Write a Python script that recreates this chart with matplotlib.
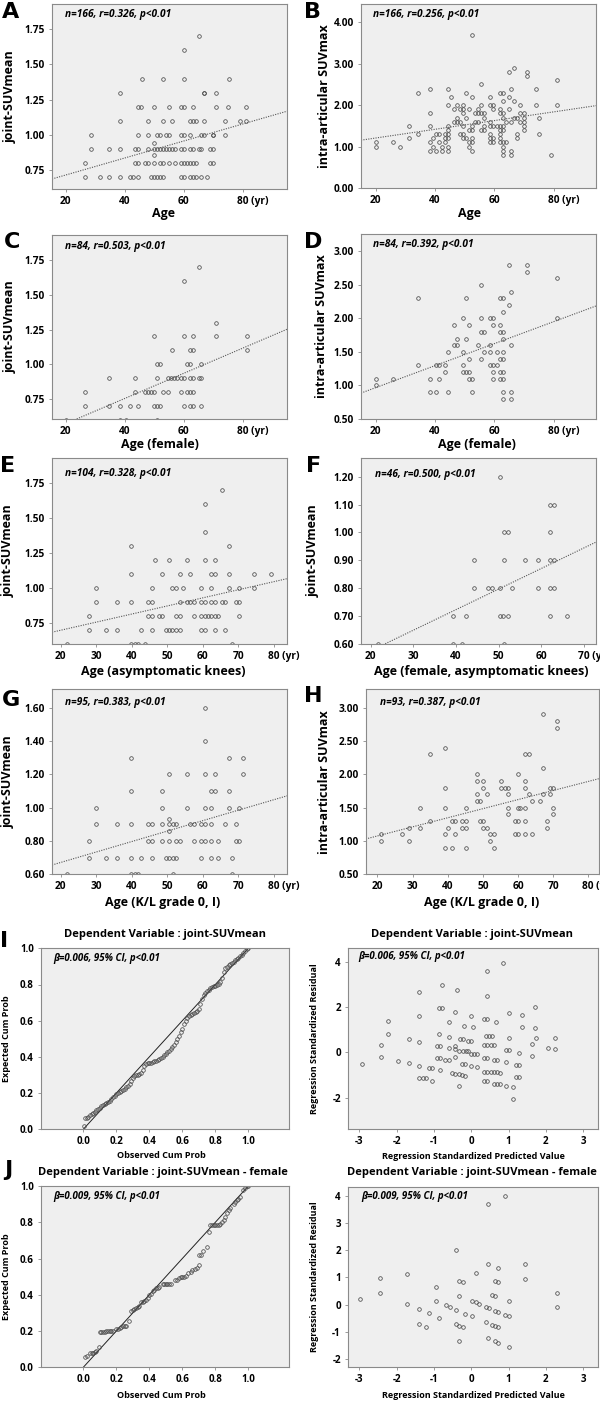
import matplotlib.pyplot as plt
from matplotlib.transforms import ScaledTranslation

plt.rcParams['font.family'] = ['Open Sans', 'DejaVu Sans']

# ---- scatter panels: SUV value -> ages (yr) of knees at that value ----
A_PTS = {
    1.70: [65], 1.60: [60], 1.40: [45.7, 52.8, 60, 75.3],
    1.30: [38.5, 67, 67, 71],
    1.20: [44.5, 45.6, 49.8, 55, 59, 60, 63, 71, 75, 81],
    1.10: [38.5, 47.7, 52.8, 56, 62, 63, 64, 67, 74, 79, 81],
    1.00: [28.4, 44.5, 48, 51, 52, 54, 55, 59, 60, 62, 66, 67, 70, 70, 74],
    0.94: [50], 0.86: [50],
    0.90: [28.4, 34.5, 38.5, 43.6, 44.5, 47.7, 50, 51, 52, 53, 54, 55, 56, 57,
           59, 60, 62, 63, 65, 66, 69, 70],
    0.80: [26.4, 43.6, 44.5, 46.7, 47.7, 50, 52, 53, 55, 57, 59, 60, 61, 62,
           63, 64, 69, 70],
    0.70: [26.4, 31.5, 34.5, 38.5, 41.7, 42.7, 44.5, 48.8, 49.8, 50.8, 51.8,
           52.8, 59, 60, 62, 63, 64, 66, 68],
    0.60: [20, 38.5, 39.5, 40.5, 42.7, 50.8, 68],
}
B_PTS = {
    3.7: [52.4], 2.9: [66.7], 2.8: [64.8, 71], 2.7: [71], 2.6: [81.1],
    2.5: [55.5], 2.4: [38.4, 44.4, 65.8, 74], 2.3: [34.2, 50.5, 61.8, 62.8],
    2.2: [45.4, 52.4, 58.6, 64.8], 2.1: [62.8, 66.7],
    2.0: [44.4, 47.5, 49.5, 55.5, 58.6, 59.7, 68.8, 74, 81.1],
    1.9: [46.5, 48.5, 49.5, 51.5, 54.6, 59.7, 61.8, 64.8],
    1.8: [38.4, 49.5, 53.6, 54.6, 55.5, 56.5, 61.8, 62.8, 68.8, 69.9],
    1.7: [47.5, 50.5, 56.5, 62.8, 66.7, 67.8, 69.9, 75],
    1.6: [46.5, 47.5, 48.5, 53.6, 54.6, 58.6, 63.8, 65.8, 68.8, 69.9],
    1.5: [31.1, 38.4, 44.4, 49.5, 52.4, 56.5, 58.6, 59.7, 60.8, 61.8, 62.8, 69.9],
    1.4: [44.4, 51.5, 52.4, 55.5, 56.5, 61.8, 62.8, 69.9],
    1.3: [34.2, 40.5, 41.4, 43.4, 44.4, 48.5, 49.5, 58.6, 61.8, 67.8, 75],
    1.2: [31.1, 39.4, 43.4, 44.4, 49.5, 50.5, 52.4, 58.6, 59.7, 61.8, 67.8],
    1.1: [20, 26, 38.4, 41.4, 43.4, 51.5, 52.4, 58.6, 59.7, 61.8, 62.8, 63.8],
    1.0: [20, 28.1, 39.4, 42.4, 44.4, 51.5, 62.8],
    0.9: [38.4, 40.5, 42.4, 44.4, 52.4, 62.8, 65.8],
    0.8: [62.8, 65.8, 79.1],
}
C_PTS = {
    1.70: [65], 1.60: [60], 1.30: [71],
    1.20: [49.8, 60, 63, 71, 81.3], 1.10: [56, 62, 63, 81.3],
    1.00: [50.8, 51.8, 61, 62, 66],
    0.90: [34.5, 43.6, 50.8, 54.8, 55.8, 56.8, 57.8, 59, 60, 62, 63, 65, 66],
    0.80: [26.4, 43.6, 46.7, 47.7, 48.8, 50, 52.8, 54.8, 59, 61, 62, 63],
    0.70: [26.4, 34.5, 38.5, 41.7, 44.5, 50, 51, 52, 60, 62, 63, 66],
    0.60: [20, 38.5, 40.5, 50.8],
}
D_PTS = {
    2.8: [64.8, 71], 2.7: [71], 2.6: [81.1], 2.5: [55.5], 2.4: [65.8],
    2.3: [34.2, 50.5, 61.8, 62.8], 2.2: [64.8], 2.1: [62.8],
    2.0: [49.5, 55.5, 58.6, 59.7, 81.1],
    1.9: [46.5, 51.5, 59.7, 61.8],
    1.8: [55.5, 56.5, 61.8, 62.8],
    1.7: [47.5, 50.5, 62.8],
    1.6: [46.5, 47.5, 54.6, 58.6, 65.8],
    1.5: [44.4, 49.5, 56.5, 58.6, 60.8, 62.8],
    1.4: [51.5, 55.5, 61.8, 62.8],
    1.3: [34.2, 40.5, 41.4, 43.4, 49.5, 58.6, 59.7, 60.8],
    1.2: [43.4, 49.5, 50.5, 51.5, 59.7, 61.8, 62.8],
    1.1: [20, 26, 38.4, 41.4, 51.5, 52.4, 59.7, 61.8, 62.8],
    1.0: [20],
    0.9: [38.4, 40.5, 44.4, 52.4, 62.8, 65.8],
    0.8: [62.8, 65.8],
}
E_PTS = {
    1.70: [65.5], 1.60: [60.5], 1.40: [60.5], 1.30: [39.8, 67.3],
    1.20: [46.5, 50.5, 55.5, 60.5, 63.4],
    1.10: [39.8, 48.6, 53.5, 56.5, 62.4, 63.4, 67.3, 74.4, 79.3],
    1.00: [29.8, 45.6, 51.4, 52.5, 54.5, 59.5, 62.4, 67.3, 70.3, 74.4],
    0.90: [29.8, 35.7, 39.8, 44.6, 45.6, 53.5, 55.5, 56.5, 57.5, 59.5, 60.5,
           62.4, 63.4, 65.4, 66.3, 69.4, 70.3],
    0.80: [27.8, 44.6, 45.6, 47.6, 48.6, 52.5, 53.5, 57.5, 59.5, 60.5, 61.5,
           62.4, 63.4, 64.4, 70.3],
    0.70: [27.8, 32.7, 35.7, 42.6, 45.6, 49.5, 50.5, 51.4, 52.5, 53.5, 59.5,
           60.5, 63.4, 66.3],
    0.60: [21.8, 39.8, 40.8, 41.7, 43.6, 68.3],
}
F_PTS = {
    1.20: [50.2], 1.10: [62.1, 63.0], 1.00: [51.3, 52.1, 62.1],
    0.90: [44.3, 51.3, 56.2, 59.2, 62.1, 63.0],
    0.80: [44.3, 47.4, 48.3, 50.2, 53.2, 59.2, 62.1, 63.0],
    0.70: [39.3, 42.3, 50.2, 51.1, 52.1, 62.1, 66.0],
    0.60: [21.6, 39.3, 41.3, 51.3],
}
G_PTS = {
    1.60: [60.5], 1.40: [60.5], 1.30: [39.8, 67.3, 71.4],
    1.20: [50.5, 55.5, 60.5, 63.4, 71.4],
    1.10: [39.8, 48.6, 62.4, 63.4, 67.3],
    1.00: [29.8, 48.6, 55.5, 60.5, 62.4, 67.3, 70.3],
    0.93: [50.5], 0.86: [50.5],
    0.90: [29.8, 35.7, 39.8, 44.6, 45.6, 48.6, 50.5, 51.5, 52.5, 56.5, 57.5,
           59.5, 60.5, 62.4, 66.3, 69.4],
    0.80: [27.8, 44.6, 45.6, 48.6, 50.5, 52.5, 53.5, 57.5, 59.5, 60.5, 62.4,
           64.4, 69.4, 70.3],
    0.70: [27.8, 32.7, 35.7, 39.8, 42.6, 45.6, 49.5, 50.5, 51.5, 52.5, 59.5,
           62.4, 64.4, 68.3],
    0.60: [21.8, 39.8, 40.8, 41.7, 51.5, 68.3],
}
H_PTS = {
    2.9: [67.2], 2.8: [71.0], 2.7: [71.0], 2.4: [39.1], 2.3: [35.0, 62.0, 63.1],
    2.1: [67.1], 2.0: [48.2, 60.0],
    1.9: [48.2, 50.0, 55.2, 62.0],
    1.8: [39.1, 50.0, 55.2, 56.2, 57.2, 62.0, 69.1, 70.0],
    1.7: [48.2, 51.2, 57.2, 63.1, 67.1, 69.1],
    1.6: [48.2, 49.2, 64.1, 66.2],
    1.5: [32.0, 39.1, 45.1, 57.2, 60.0, 60.6, 62.0, 70.0],
    1.4: [57.2, 70.0],
    1.3: [35.0, 41.1, 42.1, 44.2, 45.1, 49.2, 50.0, 59.1, 60.0, 62.0, 68.1],
    1.2: [29.0, 32.0, 40.0, 44.2, 45.1, 50.0, 51.2, 68.1],
    1.1: [21.0, 27.0, 39.1, 42.1, 52.1, 53.2, 59.1, 60.0, 62.0, 64.1],
    1.0: [21.0, 29.0, 52.1],
    0.9: [39.1, 41.1, 45.1, 53.2],
}

# fitted regression lines: [intercept, slope]
A_FIT = [0.594, 0.00604]
B_FIT = [0.996, 0.01051]
C_FIT = [0.392, 0.00905]
D_FIT = [0.640, 0.0164]
E_FIT = [0.586, 0.00577]
F_FIT = [0.427, 0.00739]
G_FIT = [0.546, 0.00627]
H_FIT = [0.802, 0.01365]

NOTES = ["n=166, r=0.326, p<0.01", "n=166, r=0.256, p<0.01",
         "n=84, r=0.503, p<0.01", "n=84, r=0.392, p<0.01",
         "n=104, r=0.328, p<0.01", "n=46, r=0.500, p<0.01",
         "n=95, r=0.383, p<0.01", "n=93, r=0.387, p<0.01"]

# ---- normal P-P plots ----
I_OBS = [0.005, 0.01, 0.02, 0.03, 0.04, 0.05, 0.06, 0.07, 0.08, 0.09,
         0.10, 0.11, 0.12, 0.13, 0.14, 0.15, 0.16, 0.17, 0.18, 0.19,
         0.20, 0.21, 0.22, 0.23, 0.24, 0.25, 0.26, 0.27, 0.28, 0.29,
         0.30, 0.31, 0.32, 0.33, 0.34, 0.35, 0.36, 0.37, 0.38, 0.39,
         0.40, 0.41, 0.42, 0.43, 0.44, 0.45, 0.46, 0.47, 0.48, 0.49,
         0.50, 0.51, 0.52, 0.53, 0.54, 0.55, 0.56, 0.57, 0.58, 0.59,
         0.60, 0.61, 0.62, 0.63, 0.64, 0.65, 0.66, 0.67, 0.68, 0.69,
         0.70, 0.71, 0.72, 0.73, 0.74, 0.75, 0.76, 0.77, 0.78, 0.79,
         0.80, 0.81, 0.82, 0.83, 0.84, 0.85, 0.86, 0.87, 0.88, 0.89,
         0.90, 0.91, 0.92, 0.93, 0.94, 0.95, 0.96, 0.97, 0.98, 0.99, 1.00]
I_EXP = [0.02, 0.06, 0.065, 0.07, 0.077, 0.084, 0.091, 0.098, 0.105, 0.112,
         0.119, 0.126, 0.133, 0.139, 0.145, 0.151, 0.157, 0.166, 0.176, 0.186,
         0.195, 0.20, 0.206, 0.212, 0.218, 0.224, 0.232, 0.241, 0.25, 0.265,
         0.285, 0.295, 0.30, 0.302, 0.304, 0.31, 0.33, 0.35, 0.36, 0.364,
         0.367, 0.369, 0.372, 0.376, 0.38, 0.384, 0.389, 0.394, 0.40, 0.408,
         0.416, 0.425, 0.434, 0.443, 0.452, 0.465, 0.48, 0.497, 0.515, 0.535,
         0.555, 0.58, 0.60, 0.615, 0.625, 0.632, 0.638, 0.643, 0.648, 0.655,
         0.665, 0.69, 0.72, 0.74, 0.755, 0.765, 0.772, 0.778, 0.784, 0.789,
         0.793, 0.798, 0.805, 0.815, 0.835, 0.87, 0.89, 0.898, 0.905, 0.912,
         0.92, 0.927, 0.934, 0.941, 0.948, 0.956, 0.965, 0.975, 0.985, 0.995, 1.0]
J_OBS = [0.01, 0.02, 0.04, 0.05, 0.06, 0.07, 0.08, 0.097,
         0.10, 0.11, 0.12, 0.13, 0.14, 0.15, 0.16, 0.17, 0.18,
         0.20, 0.21, 0.22, 0.23, 0.24, 0.25, 0.26, 0.275,
         0.29, 0.30, 0.31, 0.32, 0.33, 0.34, 0.35, 0.36, 0.37, 0.38, 0.39,
         0.40, 0.41, 0.42, 0.43, 0.44, 0.45, 0.46,
         0.48, 0.49, 0.50, 0.51, 0.52, 0.53,
         0.555, 0.57, 0.58, 0.59, 0.60, 0.61, 0.62,
         0.636, 0.65, 0.66, 0.675, 0.687,
         0.70, 0.70, 0.715, 0.727, 0.747, 0.76,
         0.77, 0.78, 0.79, 0.80, 0.81, 0.82, 0.83,
         0.84, 0.85, 0.86, 0.87, 0.88, 0.89,
         0.91, 0.92, 0.93, 0.94, 0.95,
         0.97, 0.98, 0.99, 1.0]
J_EXP = [0.059, 0.06, 0.078, 0.08, 0.08, 0.085, 0.09, 0.11,
         0.197, 0.197, 0.197, 0.197, 0.198, 0.199, 0.2, 0.2, 0.2,
         0.212, 0.213, 0.215, 0.222, 0.228, 0.23, 0.23, 0.258,
         0.31, 0.315, 0.32, 0.328, 0.334, 0.34, 0.362, 0.362, 0.365, 0.37, 0.38,
         0.40, 0.405, 0.42, 0.425, 0.435, 0.44, 0.445,
         0.46, 0.46, 0.46, 0.46, 0.46, 0.46,
         0.48, 0.483, 0.49, 0.497, 0.50, 0.5, 0.503,
         0.52, 0.528, 0.535, 0.54, 0.545,
         0.567, 0.618, 0.62, 0.64, 0.665, 0.744,
         0.785, 0.785, 0.785, 0.785, 0.785, 0.785, 0.79,
         0.80, 0.815, 0.83, 0.85, 0.87, 0.876,
         0.90, 0.91, 0.925, 0.93, 0.94,
         0.98, 0.99, 1.0, 1.0]
PP_DIAG = [0.0, 1.0]

# ---- residual vs predicted ----
I_PRED = [0.85, 0.42, -0.78, -1.39, -0.38, 0.42,
          -0.86, -0.78, 1.71, -1.39, -0.43, 0.0, 0.34, 0.42, 0.67, 1.02, 1.36,
          -2.24, -0.6, -0.18, 0.06, 1.36, 1.71,
          -2.24, -0.87, -0.6, -0.31, -0.22, -0.09, -0.01, 0.4, 0.47, 0.55, 1.01,
          1.73, 2.24, -1.68, -1.39,
          -2.41, -0.92, -0.83, -0.6, -0.43, -0.43, -0.32, -0.23, -0.15, -0.08,
          -0.01, 0.07, 0.16, 0.34, 0.43, 0.52, 0.61, 0.94, 1.02, 1.29, 1.63,
          2.06, 2.24,
          -2.41, -1.97, -1.68, -2.92, -0.92, -0.83, -0.69, -0.6, -0.43, -0.25,
          -0.16, 0.0, 0.16, 0.34, 0.42, 0.61, 0.7, 0.94, 1.2, 1.29, 1.63,
          -1.39, -1.12, -1.05, -0.83, -0.52, -0.43, -0.34, -0.25, -0.16, 0.34,
          0.42, 0.52, 0.61, 0.7, 0.77, 1.2, 1.29,
          -1.39, -1.3, -1.21, -1.05, -0.34, 0.34, 0.42, 0.61, 0.7, 0.77, 0.94,
          1.11, 1.11]
I_RES = [3.95, 3.6, 3.0, 2.67, 2.75, 2.5,
         1.95, 1.95, 2.0, 1.6, 1.77, 1.62, 1.49, 1.49, 1.36, 1.75, 1.64,
         1.4, 1.33, 1.18, 1.12, 1.12, 1.06,
         0.8, 0.8, 0.69, 0.59, 0.59, 0.5, 0.5, 0.72, 0.72, 0.72, 0.62,
         0.65, 0.65, 0.59, 0.47,
         0.33, 0.3, 0.3, 0.18, 0.3, 0.15, 0.05, 0.05, 0.05, 0.05,
         -0.09, -0.09, -0.09, 0.33, 0.33, 0.33, 0.33, 0.1, 0.1, -0.04, 0.35,
         0.2, 0.15,
         -0.19, -0.38, -0.49, -0.53, -0.24, -0.24, -0.34, -0.34, -0.19, -0.51,
         -0.51, -0.59, -0.63, -0.24, -0.24, -0.33, -0.33, -0.44, -0.56, -0.56, -0.15,
         -0.6, -0.71, -0.71, -0.8, -0.92, -0.95, -0.97, -1.0, -1.03, -0.86,
         -0.86, -0.86, -0.88, -0.88, -0.9, -1.08, -1.08,
         -1.15, -1.15, -1.15, -1.26, -1.5, -1.26, -1.26, -1.4, -1.4, -1.4, -1.47,
         -1.55, -2.05]
J_PRED = [0.91, 0.46, -0.42, 0.46, 0.73, 1.44, 0.12, -1.73, -2.44, 1.44,
          -0.33, -0.23, 0.64, 0.73, -0.94, 0.55, 0.64, -2.44, 2.3, -0.33,
          -2.97, -0.94, 0.03, 0.12, 0.21, 1.0, -1.73, -0.67, -0.58, 0.39,
          0.48, -0.42, -1.39, 0.64, 0.73, 2.3, -0.16, -1.12, 0.03, 0.91,
          1.0, -0.85, -0.42, -0.33, -0.23, 0.39, 0.55, 0.64, 0.73, -1.39,
          -1.21, -0.33, 0.46, 0.64, 0.73, 1.0]
J_RES = [4.0, 3.7, 2.01, 1.5, 1.35, 1.5, 1.15, 1.13, 0.97, 0.95,
         0.87, 0.83, 0.87, 0.83, 0.65, 0.34, 0.32, 0.42, 0.44, 0.32,
         0.2, 0.12, 0.12, 0.08, 0.03, 0.12, 0.02, -0.03, -0.07, -0.1,
         -0.14, -0.18, -0.17, -0.23, -0.27, -0.1, -0.33, -0.3, -0.4, -0.37,
         -0.4, -0.48, -0.7, -0.77, -0.83, -0.64, -0.74, -0.78, -0.83, -0.7,
         -0.83, -1.34, -1.23, -1.35, -1.39, -1.54]

BETA_I = "\u03b2=0.006, 95% CI, p<0.01"
BETA_J = "\u03b2=0.009, 95% CI, p<0.01"
TITLE_I = "Dependent Variable : joint-SUVmean"
TITLE_J = "Dependent Variable : joint-SUVmean - female"

W, H = 600, 1402
fig = plt.figure(figsize=(W / 100, H / 100), dpi=100)

BG = '#efefef'
FRAME = '#8a8a8a'
MARK = dict(marker='o', ms=2.6, mfc='none', mec='#4a4a4a', mew=0.55, ls='none')


def ftext(x, y, s, **kw):
    fig.text(x / W, 1 - y / H, s, **kw)


def add_ax(l, t, r, b, lsize):
    ax = fig.add_axes([l / W, 1 - b / H, (r - l) / W, (b - t) / H])
    ax.set_facecolor(BG)
    for s in ax.spines.values():
        s.set_color(FRAME)
        s.set_linewidth(0.8)
    ax.tick_params(length=2.5, width=0.6, color=FRAME, labelsize=lsize, pad=2.5)
    return ax


def ticks(ax, xt, xl, yt, yl):
    ax.set_xticks(xt)
    ax.set_xticklabels(xl, fontweight='bold')
    ax.set_yticks(yt)
    ax.set_yticklabels(yl, fontweight='bold')


def labels(ax, rect, xl, xc, xtop, yl, yright, size):
    l, t, r, b = rect
    ax.set_xlabel(xl, fontsize=size, fontweight='bold')
    ax.xaxis.set_label_coords((xc - l) / (r - l), -(xtop - b) / (b - t))
    ax.set_ylabel(yl, fontsize=size, fontweight='bold')
    ax.yaxis.set_label_coords((yright - l) / (r - l), 0.5)


def flat(pts):
    xs, ys = [], []
    for v, ages in pts.items():
        xs += ages
        ys += [v] * len(ages)
    return xs, ys


def yr_label(ax):
    lab = ax.get_xticklabels()[-1]
    lab.set_ha('left')
    lab.set_transform(lab.get_transform() +
                      ScaledTranslation(-6 / 100, 0, fig.dpi_scale_trans))


x_a = [20, 40, 60, 80]
x_e = [20, 30, 40, 50, 60, 70, 80]
x_f = [20, 30, 40, 50, 60, 70]


def yr(vals):
    out = [str(v) for v in vals]
    out[-1] += " (yr)"
    return out


def f2(vals):
    return ["%.2f" % v for v in vals]


SCATTER = [
    # pts, fit, rect, xlim, ylim, xt, yt, xlabel, ylabel, letter, xlabel (c,top), ylabel right, note pos
    (A_PTS, A_FIT, (52, 4, 287, 189), (15.3, 95), (0.615, 1.93), x_a,
     [0.75, 1.0, 1.25, 1.5, 1.75], "Age", "joint-SUVmean", ("A", 11, 12.5),
     (163, 207.5), 17, (65, 15)),
    (B_PTS, B_FIT, (361, 4, 596, 188), (15.05, 94.3), (0.0, 4.44), x_a,
     [0, 1, 2, 3, 4], "Age", "intra-articular SUVmax", ("B", 313, 12.5),
     (470, 207.5), 331, (373, 15)),
    (C_PTS, C_FIT, (52, 235, 287, 419), (15.3, 95), (0.606, 1.93), x_a,
     [0.75, 1.0, 1.25, 1.5, 1.75], "Age (female)", "joint-SUVmean", ("C", 12, 242.5),
     (160, 438), 17, (65, 246)),
    (D_PTS, D_FIT, (361, 234, 596, 419), (15.05, 94.3), (0.5, 3.26), x_a,
     [0.5, 1.0, 1.5, 2.0, 2.5, 3.0], "Age (female)", "intra-articular SUVmax",
     ("D", 313, 242), (476.7, 438), 328, (373, 245)),
    (E_PTS, E_FIT, (52, 458, 287, 643.7), (17.5, 83.7), (0.605, 1.93), x_e,
     [0.75, 1.0, 1.25, 1.5, 1.75], "Age (asymptomatic knees)", "joint-SUVmean",
     ("E", 8, 466), (163, 665), 15, (65, 473)),
    (F_PTS, F_FIT, (361, 458.3, 596, 643.7), (17.7, 72.8), (0.6, 1.266), x_f,
     [0.6, 0.7, 0.8, 0.9, 1.0, 1.1, 1.2], "Age (female, asymptomatic knees)",
     "joint-SUVmean", ("F", 314, 466), (481.7, 665), 320, (375, 474)),
    (G_PTS, G_FIT, (52, 689, 287, 874.3), (17.5, 83.7), (0.6, 1.712), x_e,
     [0.6, 0.8, 1.0, 1.2, 1.4, 1.6], "Age (K/L grade 0, I)", "joint-SUVmean",
     ("G", 11, 700), (163, 895.7), 15, (65, 703)),
    (H_PTS, H_FIT, (365.7, 689, 599, 874.3), (16.7, 83.0), (0.5, 3.28), x_e,
     [0.5, 1.0, 1.5, 2.0, 2.5, 3.0], "Age (K/L grade 0, I)", "intra-articular SUVmax",
     ("H", 313, 696), (481.7, 895.7), 331, (380, 703)),
]

for k, (pts, fit, rect, xlim, ylim, xt, yt, xl, yl, let, xlp, ylr, npos) in enumerate(SCATTER):
    ax = add_ax(*rect, 7.3)
    xs, ys = flat(pts)
    ax.plot(xs, ys, **MARK)
    lx = list(xlim)
    ax.plot(lx, [fit[0] + fit[1] * v for v in lx], ls=(0, (1, 1.2)),
            color='#555555', lw=0.8)
    ax.set_xlim(xlim)
    ax.set_ylim(ylim)
    ticks(ax, xt, yr(xt), yt, f2(yt))
    yr_label(ax)
    labels(ax, rect, xl, xlp[0], xlp[1], yl, ylr, 9)
    ftext(let[1], let[2], let[0], fontsize=16, fontweight='bold',
          family='DejaVu Sans', ha='center', va='center')
    ftext(npos[0], npos[1], NOTES[k], fontsize=7.3, fontweight='bold',
          style='italic', ha='left', va='center')

pp_t = [0.0, 0.2, 0.4, 0.6, 0.8, 1.0]
pp_l = ["%.1f" % v for v in pp_t]

PP = [
    (I_OBS, I_EXP, (40.7, 948.3, 289.3, 1129.3), TITLE_I, (165, 935), BETA_I,
     (53, 958), ("I", 4, 941), 1151),
    (J_OBS, J_EXP, (40.7, 1186, 289.3, 1367.3), TITLE_J, (163, 1172.7), BETA_J,
     (53, 1196), ("J", 8, 1170), 1391),
]
for obs, exp, rect, title, tpos, note, npos, let, xtop in PP:
    ax = add_ax(*rect, 7)
    ax.plot(PP_DIAG, PP_DIAG, color='#222222', lw=0.7)
    ax.plot(obs, exp, **MARK)
    ax.set_xlim(-0.258, 1.248)
    ax.set_ylim(0, 1)
    ticks(ax, pp_t, pp_l, pp_t, pp_l)
    labels(ax, rect, "Observed Cum Prob", 161.7, xtop, "Expected Cum Prob", 11, 6.5)
    ftext(tpos[0], tpos[1], title, fontsize=8, fontweight='bold',
          ha='center', va='center')
    ftext(npos[0], npos[1], note, fontsize=7, fontweight='bold',
          style='italic', ha='left', va='center')
    ftext(let[1], let[2], let[0], fontsize=16, fontweight='bold',
          family='DejaVu Sans', ha='center', va='center')

RES = [
    (I_PRED, I_RES, (347.7, 948.3, 597.7, 1129.3), (-3.4, 4.6), [-2, 0, 2, 4],
     TITLE_I, (471.7, 935), BETA_I, (358, 957), 1151.7),
    (J_PRED, J_RES, (347.7, 1186.7, 597.7, 1367.3), (-2.3, 4.33),
     [-2, -1, 0, 1, 2, 3, 4], TITLE_J, (471.7, 1172.7), BETA_J, (361, 1197), 1391),
]
rx = [-3, -2, -1, 0, 1, 2, 3]
for pred, res, rect, ylim, yt, title, tpos, note, npos, xtop in RES:
    ax = add_ax(*rect, 7)
    ax.plot(pred, res, **MARK)
    ax.set_xlim(-3.31, 3.39)
    ax.set_ylim(ylim)
    ticks(ax, rx, [str(v) for v in rx], yt, [str(v) for v in yt])
    labels(ax, rect, "Regression Standardized Predicted Value", 473.3, xtop,
           "Regression Standardized Residual", 319, 6.5)
    ftext(tpos[0], tpos[1], title, fontsize=8, fontweight='bold',
          ha='center', va='center')
    ftext(npos[0], npos[1], note, fontsize=7, fontweight='bold',
          style='italic', ha='left', va='center')

fig.savefig("out.png", dpi=100)
